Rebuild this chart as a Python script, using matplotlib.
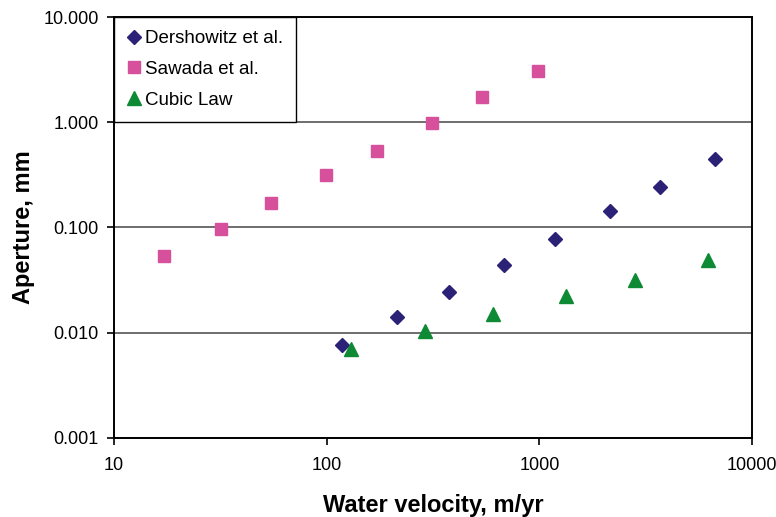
import numpy as np
import matplotlib
matplotlib.use("Agg")
import matplotlib.pyplot as plt
from matplotlib.ticker import FixedLocator, FuncFormatter, NullLocator

plt.rcParams['font.family'] = ['Liberation Sans', 'DejaVu Sans']

# velocity (m/yr) vs aperture (mm)
dersh_v = [118, 215, 375, 680, 1180, 2140, 3690, 6690]
dersh_a = [0.0077, 0.0140, 0.0245, 0.044, 0.077, 0.143, 0.244, 0.448]

sawada_v = [17.2, 31.7, 54.5, 99, 172, 313, 539, 990]
sawada_a = [0.054, 0.097, 0.170, 0.313, 0.533, 0.98, 1.73, 3.09]

cubic_v = [130, 291, 603, 1334, 2805, 6180]
cubic_a = [0.0070, 0.0104, 0.0151, 0.0225, 0.0317, 0.049]

series_names = ["Dershowitz et al.", "Sawada et al.", "Cubic Law"]
x_ticks = [10, 100, 1000, 10000]
y_ticks = [0.001, 0.01, 0.1, 1, 10]

fig = plt.figure(figsize=(7.76, 5.17), dpi=100)
ax = fig.add_axes([0.147, 0.153, 0.822, 0.814])

ax.plot(dersh_v, dersh_a, linestyle='none', marker='D', markersize=6.8,
        color='#2B2278', label=series_names[0])
ax.plot(sawada_v, sawada_a, linestyle='none', marker='s', markersize=8.6,
        color='#D6509B', label=series_names[1])
ax.plot(cubic_v, cubic_a, linestyle='none', marker='^', markersize=9.6,
        color='#0E8A35', label=series_names[2])

ax.set_xscale('log')
ax.set_yscale('log')
ax.set_xlim(10, 10000)
ax.set_ylim(0.001, 10)

ax.xaxis.set_major_locator(FixedLocator(x_ticks))
ax.xaxis.set_minor_locator(NullLocator())
ax.yaxis.set_major_locator(FixedLocator(y_ticks))
ax.yaxis.set_minor_locator(NullLocator())
ax.xaxis.set_major_formatter(FuncFormatter(lambda v, p: "%d" % round(v)))
ax.yaxis.set_major_formatter(FuncFormatter(lambda v, p: "%.3f" % v))
ax.tick_params(axis='both', direction='out', length=5, width=1.2,
               labelsize=13, pad=6)
ax.tick_params(axis='x', pad=9)

ax.grid(True, axis='y', color='#555555', linewidth=1.2)
ax.set_axisbelow(True)
for s in ax.spines.values():
    s.set_linewidth(1.4)
    s.set_color('black')

ax.set_xlabel("Water velocity, m/yr", fontsize=17, fontweight='bold', labelpad=14)
ax.set_ylabel("Aperture, mm", fontsize=17, fontweight='bold', labelpad=6)

leg = ax.legend(loc='upper left', bbox_to_anchor=(0, 1), borderaxespad=0,
                fontsize=13.5, frameon=True, fancybox=False, framealpha=1,
                handlelength=0.7, handletextpad=0.25, labelspacing=0.72,
                borderpad=0.7, markerscale=1.0)
leg.get_frame().set_edgecolor('black')
leg.get_frame().set_linewidth(1.0)

fig.savefig("out.png", dpi=100)
